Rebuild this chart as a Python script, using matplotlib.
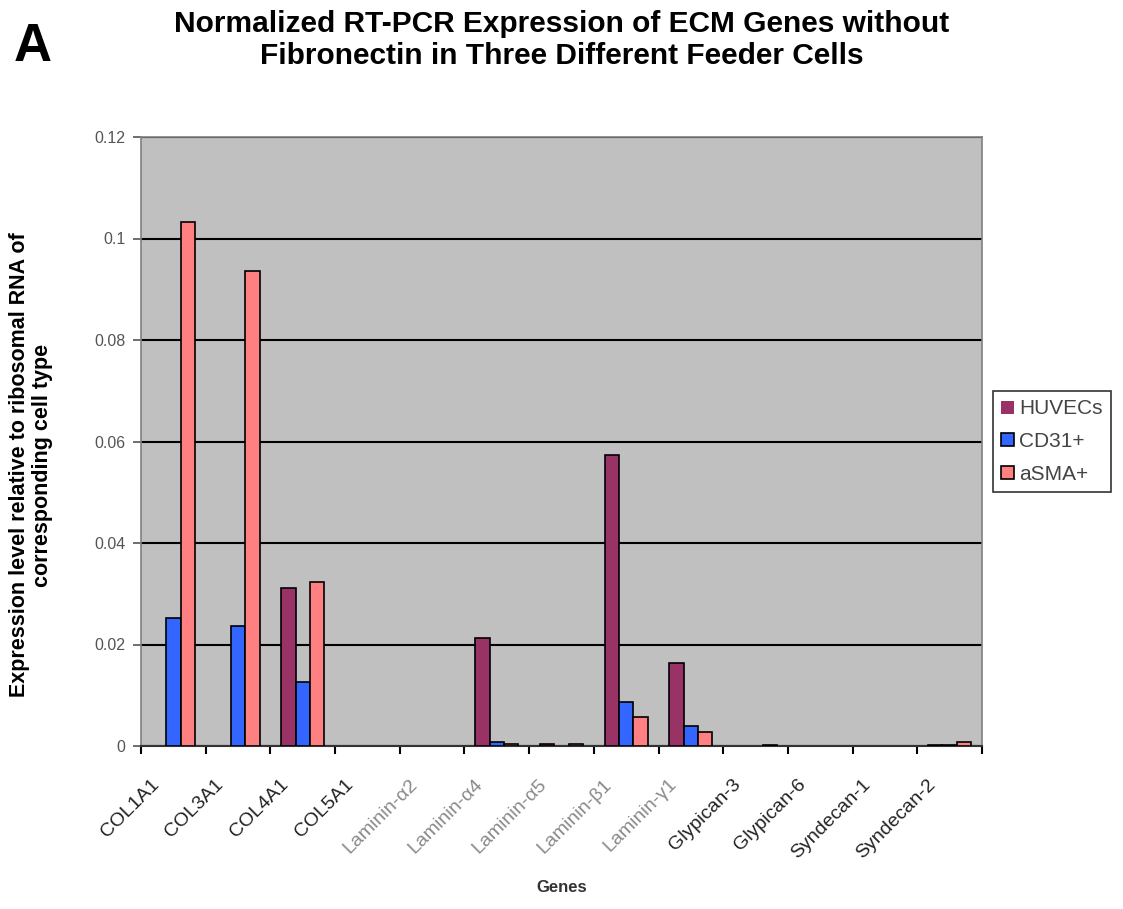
import numpy as np
import matplotlib
matplotlib.use("Agg")
import matplotlib.pyplot as plt
import matplotlib.transforms as mtransforms

plt.rcParams["font.family"] = ["Liberation Sans", "DejaVu Sans"]

# genes on the x axis
genes = ["COL1A1", "COL3A1", "COL4A1", "COL5A1",
         "Laminin-\u03b12", "Laminin-\u03b14", "Laminin-\u03b15",
         "Laminin-\u03b21", "Laminin-\u03b31",
         "Glypican-3", "Glypican-6", "Syndecan-1", "Syndecan-2"]

# expression relative to ribosomal RNA
huvecs = [0, 0, 0.0312, 0, 0, 0.0213, 0.0003, 0.0573, 0.0164, 0, 0, 0, 0.0002]
cd31 = [0.0252, 0.0236, 0.0127, 0, 0, 0.0007, 0, 0.0086, 0.0039, 0, 0, 0, 0.0002]
asma = [0.1033, 0.0936, 0.0324, 0, 0, 0.0003, 0.0003, 0.0058, 0.0027, 0.0002, 0, 0, 0.0007]

series_names = ["HUVECs", "CD31+", "aSMA+"]
colors = ["#993366", "#3366FF", "#FF8080"]

fig = plt.figure(figsize=(11.23, 9.09), dpi=100)
ax = fig.add_axes([141 / 1123, 1 - 746 / 909, 841 / 1123, 609 / 909])
ax.set_facecolor("#C0C0C0")

x = np.arange(len(genes))
w = 1 / 4.5
for i, (vals, name, c) in enumerate(zip([huvecs, cd31, asma], series_names, colors)):
    vals = np.array(vals)
    # Excel draws nothing for an exact zero
    lw = np.where(vals > 0, 1.2, 0)
    ax.bar(x + (i - 1) * w, vals, width=w, color=c, edgecolor="black",
           linewidth=lw, label=name, zorder=3)

ax.set_xlim(-0.5, len(genes) - 0.5)
ax.set_ylim(0, 0.12)
ax.set_yticks([0, 0.02, 0.04, 0.06, 0.08, 0.1, 0.12])
ax.set_yticklabels(["0", "0.02", "0.04", "0.06", "0.08", "0.1", "0.12"])
ax.yaxis.grid(True, color="black", linewidth=1.5, zorder=1)
ax.set_axisbelow(True)

# category tick marks sit between the groups, labels at the centres
ax.set_xticks(np.arange(len(genes) + 1) - 0.5)
ax.set_xticklabels([])
ax.set_xticks(x, minor=True)
ax.tick_params(axis="x", which="minor", length=0)
ax.tick_params(axis="x", which="major", length=6, width=1.5, color="black")
ax.tick_params(axis="y", length=6, width=1.2, color="#555555",
               labelsize=11.5, labelcolor="#555555", pad=5)

label_colors = ["#222222"] * 4 + ["#8a8a8a"] * 5 + ["#222222"] * 4
offset = mtransforms.ScaledTranslation(-0.23, -0.25, fig.dpi_scale_trans)
ax.set_xticklabels(genes, minor=True)
for lab, lc in zip(ax.get_xticklabels(minor=True), label_colors):
    lab.set_rotation(45)
    lab.set_ha("right")
    lab.set_va("top")
    lab.set_rotation_mode("anchor")
    lab.set_fontsize(14)
    lab.set_color(lc)
    lab.set_transform(lab.get_transform() + offset)

for s in ax.spines.values():
    s.set_color("#808080")
    s.set_linewidth(1.2)
ax.spines["bottom"].set_color("#333333")
ax.spines["bottom"].set_linewidth(1.5)

fig.text(0.5, 1 - 888 / 909, "Genes", ha="center", va="center",
         fontsize=12, fontweight="bold", color="#333333")
fig.text(31 / 1123, 1 - 465 / 909,
         "Expression level relative to ribosomal RNA of\ncorresponding cell type",
         rotation=90, ha="center", va="center", fontsize=15.5, fontweight="bold",
         linespacing=1.1)

leg = ax.legend(loc="center left", bbox_to_anchor=(1.013, 0.5), fontsize=15,
                frameon=True, fancybox=False, handlelength=0.6, handleheight=0.6,
                handletextpad=0.25, borderpad=0.4, labelspacing=0.65,
                borderaxespad=0)
leg.get_frame().set_edgecolor("black")
leg.get_frame().set_linewidth(1.2)
for t in leg.get_texts():
    t.set_color("#444444")

fig.text(0.5, 1 - 40 / 909, "Normalized RT-PCR Expression of ECM Genes without\n"
         "Fibronectin in Three Different Feeder Cells",
         ha="center", va="center", fontsize=21.5, fontweight="bold",
         linespacing=1.2)
fig.text(0.012, 1 - 47 / 909, "A", fontsize=38, fontweight="bold", va="center")

fig.savefig("out.png", dpi=100)
